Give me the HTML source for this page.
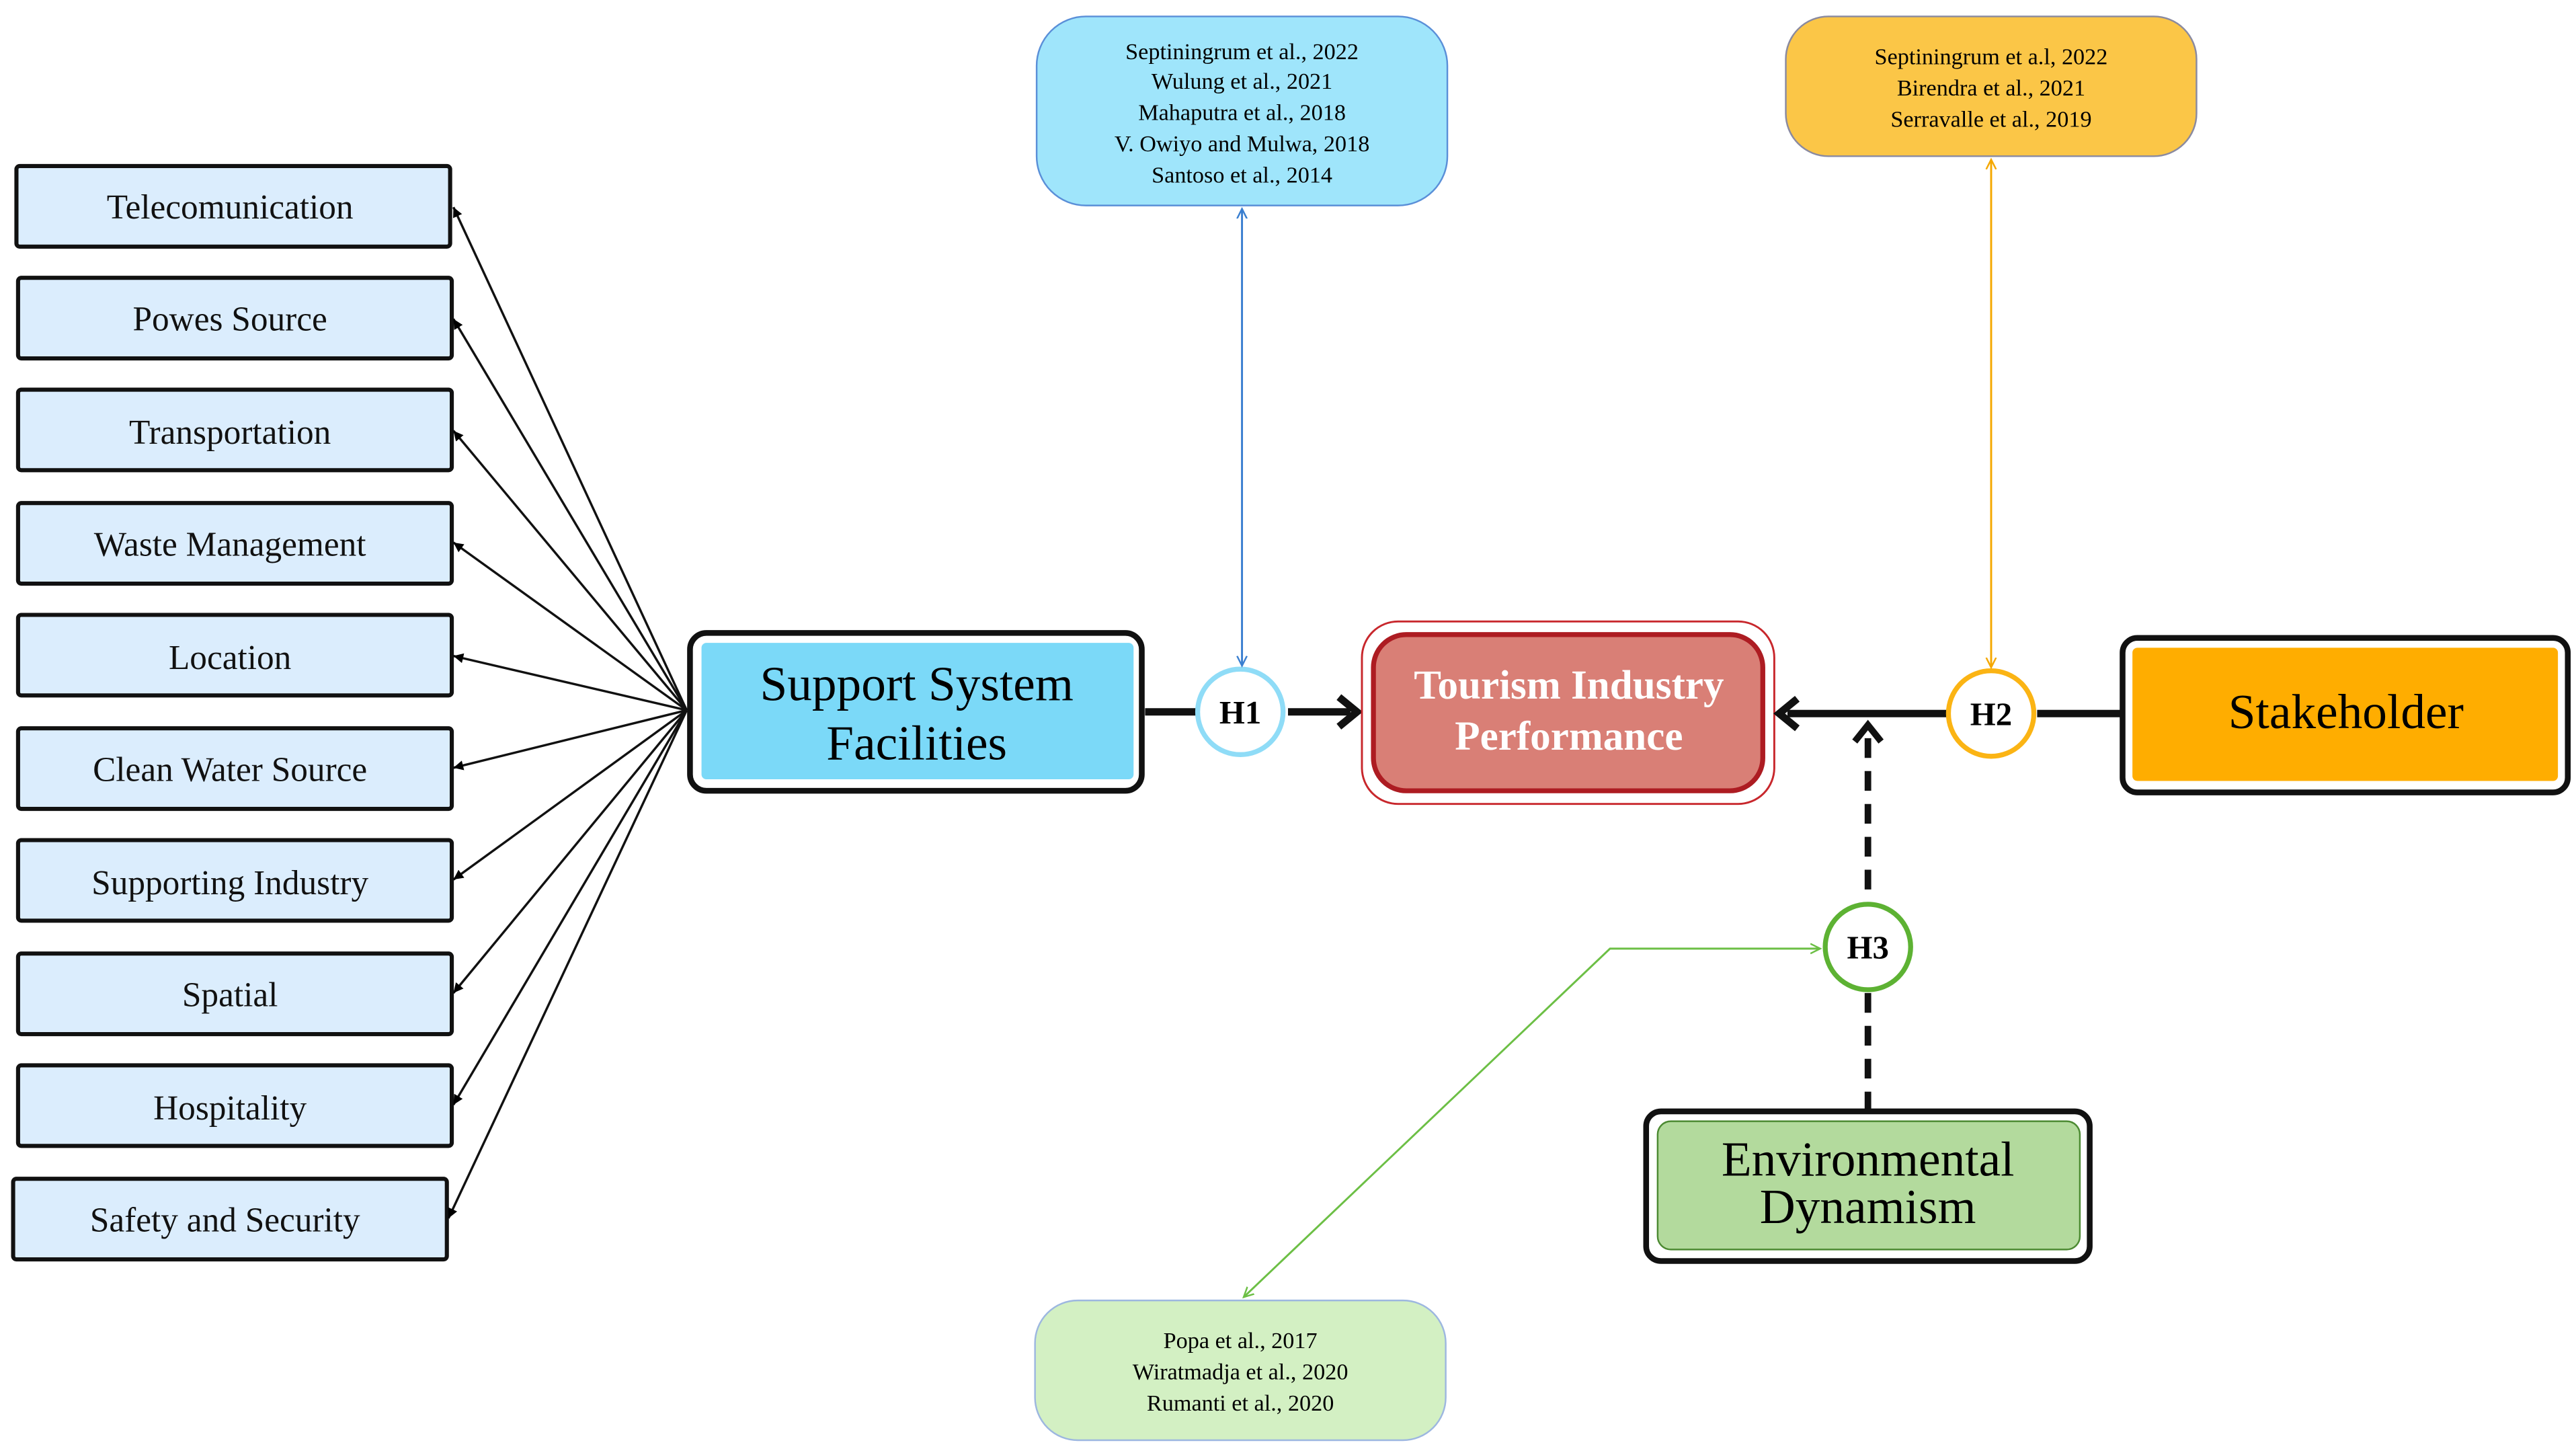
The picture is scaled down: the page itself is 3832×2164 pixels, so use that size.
<!DOCTYPE html>
<html><head><meta charset="utf-8"><style>
html,body{margin:0;padding:0;background:#fff;}
svg{display:block;}
text{font-family:"Liberation Serif",serif;}
</style></head><body>
<svg width="3832" height="2164" viewBox="0 0 1568 885" preserveAspectRatio="none" xmlns="http://www.w3.org/2000/svg">
<defs>
<marker id="ab" markerWidth="8" markerHeight="8" refX="6" refY="4" orient="auto" markerUnits="userSpaceOnUse"><path d="M0,1 L6,4 L0,7 z" fill="#000"/></marker>
<marker id="abl" markerWidth="8" markerHeight="8" refX="6" refY="4" orient="auto-start-reverse" markerUnits="userSpaceOnUse"><path d="M0,1 L6,4 L0,7" fill="none" stroke="#3a7fd0" stroke-width="1"/></marker>
<marker id="aor" markerWidth="8" markerHeight="8" refX="6" refY="4" orient="auto-start-reverse" markerUnits="userSpaceOnUse"><path d="M0,1 L6,4 L0,7" fill="none" stroke="#f5a800" stroke-width="1"/></marker>
<marker id="agr" markerWidth="8" markerHeight="8" refX="6" refY="4" orient="auto-start-reverse" markerUnits="userSpaceOnUse"><path d="M0,1 L6,4 L0,7" fill="none" stroke="#6cbf45" stroke-width="1"/></marker>
</defs>

<!-- left boxes -->
<g stroke="#111" stroke-width="2.5" fill="#dbedfd">
<rect x="10" y="101" width="264" height="49" rx="2"/>
<rect x="11" y="169" width="264" height="49" rx="2"/>
<rect x="11" y="237" width="264" height="49" rx="2"/>
<rect x="11" y="306" width="264" height="49" rx="2"/>
<rect x="11" y="374" width="264" height="49" rx="2"/>
<rect x="11" y="443" width="264" height="49" rx="2"/>
<rect x="11" y="511" width="264" height="49" rx="2"/>
<rect x="11" y="580" width="264" height="49" rx="2"/>
<rect x="11" y="648" width="264" height="49" rx="2"/>
<rect x="8" y="717" width="264" height="49" rx="2"/>
</g>
<g font-size="21" text-anchor="middle" fill="#111">
<text x="140" y="133">Telecomunication</text>
<text x="140" y="201">Powes Source</text>
<text x="140" y="270">Transportation</text>
<text x="140" y="338">Waste Management</text>
<text x="140" y="407">Location</text>
<text x="140" y="475">Clean Water Source</text>
<text x="140" y="544">Supporting Industry</text>
<text x="140" y="612">Spatial</text>
<text x="140" y="681">Hospitality</text>
<text x="137" y="749">Safety and Security</text>
</g>
<g stroke="#111" stroke-width="1.4" marker-end="url(#ab)">
<line x1="418" y1="432" x2="276" y2="126"/>
<line x1="418" y1="432" x2="276" y2="194"/>
<line x1="418" y1="432" x2="276" y2="262"/>
<line x1="418" y1="432" x2="276" y2="330"/>
<line x1="418" y1="432" x2="276" y2="399"/>
<line x1="418" y1="432" x2="276" y2="467"/>
<line x1="418" y1="432" x2="276" y2="535"/>
<line x1="418" y1="432" x2="276" y2="604"/>
<line x1="418" y1="432" x2="276" y2="672"/>
<line x1="418" y1="432" x2="273" y2="741"/>
</g>

<!-- support box -->
<rect x="420" y="385" width="275" height="96" rx="10" fill="#fff" stroke="#111" stroke-width="3.5"/>
<rect x="427" y="391" width="263" height="83" rx="3" fill="#7bd9f8"/>
<text x="558" y="426" font-size="30" text-anchor="middle">Support System</text>
<text x="558" y="462" font-size="30" text-anchor="middle">Facilities</text>

<!-- H1 -->
<line x1="697" y1="433" x2="728" y2="433" stroke="#111" stroke-width="4.5"/>
<line x1="784" y1="433" x2="822" y2="433" stroke="#111" stroke-width="4.5"/>
<path d="M815,424 L826,433 L815,442" fill="none" stroke="#111" stroke-width="4.5"/>
<circle cx="755" cy="433" r="26" fill="#fff" stroke="#8fdcf7" stroke-width="3"/>
<text x="755" y="440" font-size="20" font-weight="bold" text-anchor="middle">H1</text>

<!-- Tourism -->
<rect x="829" y="378" width="251" height="111" rx="22" fill="#fff" stroke="#c8272c" stroke-width="1.2"/>
<rect x="836" y="386" width="237" height="95" rx="20" fill="#d97f76" stroke="#ad1c22" stroke-width="3"/>
<text x="955" y="425" font-size="25" font-weight="bold" fill="#fff" text-anchor="middle">Tourism Industry</text>
<text x="955" y="456" font-size="25" font-weight="bold" fill="#fff" text-anchor="middle">Performance</text>

<!-- H2 -->
<line x1="1088" y1="434" x2="1185" y2="434" stroke="#111" stroke-width="4.5"/>
<path d="M1094,425 L1083,434 L1094,443" fill="none" stroke="#111" stroke-width="4.5"/>
<line x1="1240" y1="434" x2="1292" y2="434" stroke="#111" stroke-width="4.5"/>
<circle cx="1212" cy="434" r="26" fill="#fff" stroke="#fbb414" stroke-width="3"/>
<text x="1212" y="441" font-size="20" font-weight="bold" text-anchor="middle">H2</text>

<!-- Stakeholder -->
<rect x="1292" y="388" width="271" height="94" rx="9" fill="#fff" stroke="#111" stroke-width="3.5"/>
<rect x="1298" y="394" width="259" height="81" rx="3" fill="#ffad00"/>
<text x="1428" y="443" font-size="30" text-anchor="middle">Stakeholder</text>

<!-- H3 -->
<line x1="1137" y1="449" x2="1137" y2="549" stroke="#111" stroke-width="4" stroke-dasharray="12,8"/>
<path d="M1129,451 L1137,441 L1145,451" fill="none" stroke="#111" stroke-width="4"/>
<line x1="1137" y1="604" x2="1137" y2="675" stroke="#111" stroke-width="4" stroke-dasharray="12,8"/>
<circle cx="1137" cy="576" r="26" fill="#fff" stroke="#5db233" stroke-width="3"/>
<text x="1137" y="583" font-size="20" font-weight="bold" text-anchor="middle">H3</text>

<!-- Env -->
<rect x="1002" y="676" width="270" height="91" rx="9" fill="#fff" stroke="#111" stroke-width="3.5"/>
<rect x="1009" y="682" width="257" height="78" rx="8" fill="#b3da9d" stroke="#4c8a32" stroke-width="1"/>
<text x="1137" y="715" font-size="30" text-anchor="middle">Environmental</text>
<text x="1137" y="744" font-size="30" text-anchor="middle">Dynamism</text>

<!-- ref boxes -->
<rect x="631" y="10" width="250" height="115" rx="30" fill="#9fe5fb" stroke="#5a8fd8" stroke-width="1"/>
<g font-size="14" text-anchor="middle">
<text x="756" y="36">Septiningrum et al., 2022</text>
<text x="756" y="54">Wulung et al., 2021</text>
<text x="756" y="73">Mahaputra et al., 2018</text>
<text x="756" y="92">V. Owiyo and Mulwa, 2018</text>
<text x="756" y="111">Santoso et al., 2014</text>
</g>
<line x1="756" y1="127" x2="756" y2="405" stroke="#3a7fd0" stroke-width="1.2" marker-start="url(#abl)" marker-end="url(#abl)"/>

<rect x="1087" y="10" width="250" height="85" rx="26" fill="#fbc647" stroke="#8a8aa0" stroke-width="1"/>
<g font-size="14" text-anchor="middle">
<text x="1212" y="39">Septiningrum et a.l, 2022</text>
<text x="1212" y="58">Birendra et al., 2021</text>
<text x="1212" y="77">Serravalle et al., 2019</text>
</g>
<line x1="1212" y1="97" x2="1212" y2="406" stroke="#f5a800" stroke-width="1.2" marker-start="url(#aor)" marker-end="url(#aor)"/>

<rect x="630" y="791" width="250" height="85" rx="26" fill="#d3f0c3" stroke="#9db7e0" stroke-width="1"/>
<g font-size="14" text-anchor="middle">
<text x="755" y="820">Popa et al., 2017</text>
<text x="755" y="839">Wiratmadja et al., 2020</text>
<text x="755" y="858">Rumanti et al., 2020</text>
</g>
<polyline points="757,789 980,577 1108,577" fill="none" stroke="#6cbf45" stroke-width="1.2" marker-start="url(#agr)" marker-end="url(#agr)"/>
</svg>
</body></html>
